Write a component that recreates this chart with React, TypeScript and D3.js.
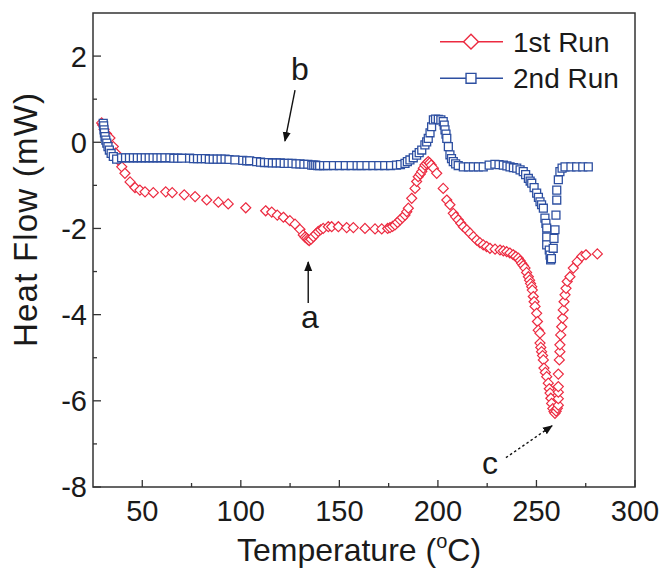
import React, { useEffect, useRef } from "react";
import * as d3 from "d3";

// 1st run (red diamonds): [temperature °C, heat flow mW]
const run1: [number, number][] = [
  [29.4, 0.45], [29.9, 0.4], [30.6, 0.3], [31.8, 0.2], [33.6, 0.1], [35.3, -0.1], [36.5, -0.25],
  [37.8, -0.41], [39.6, -0.57], [41.2, -0.72], [43.8, -0.92], [46.3, -1.05], [48.8, -1.11],
  [51.4, -1.15], [55.6, -1.17], [61.9, -1.15], [65.2, -1.17], [71.3, -1.22], [76.8, -1.26],
  [82.7, -1.34], [88.6, -1.39], [93.6, -1.43], [102.5, -1.52], [112.6, -1.59], [115.7, -1.62],
  [118.5, -1.69], [121.6, -1.74], [124.9, -1.82], [127.5, -1.9], [130.0, -2.02], [131.7, -2.15],
  [132.6, -2.2], [133.4, -2.23], [134.1, -2.26], [134.7, -2.28], [135.6, -2.25], [136.8, -2.19],
  [138, -2.13], [139.3, -2.07], [140.5, -2.03], [141.8, -2.0], [144.4, -1.96], [146.1, -1.96],
  [149.5, -1.96], [153.7, -1.98], [157.1, -1.98], [163.0, -2.0], [168.1, -2.01], [171.5, -2.01],
  [174.5, -2.0], [175.7, -1.98], [177, -1.95], [178.2, -1.92], [179.5, -1.86], [180.8, -1.8],
  [182, -1.75], [183.3, -1.69], [184.2, -1.61], [185.0, -1.53], [186.7, -1.3], [188.4, -1.07],
  [189.2, -0.91], [190.0, -0.8], [191, -0.74], [191.8, -0.68], [192.6, -0.6], [193.4, -0.53],
  [194.2, -0.49], [195.1, -0.45], [195.8, -0.48], [196.6, -0.53], [197.7, -0.6], [199.4, -0.72],
  [202.7, -1.07], [204.5, -1.34], [206.1, -1.45], [207.8, -1.65], [209, -1.73], [210.3, -1.8],
  [211.6, -1.88], [212.9, -1.96], [214.6, -2.03], [216.3, -2.11], [218, -2.19], [219.7, -2.27],
  [221.3, -2.33], [223.0, -2.38], [224.7, -2.42], [226.4, -2.46], [229, -2.48], [231.5, -2.5],
  [233.2, -2.52], [234.9, -2.54], [236.5, -2.57], [238.2, -2.61], [239.5, -2.65], [240.8, -2.69],
  [241.7, -2.75], [242.5, -2.81], [243.3, -2.86], [244.2, -2.92], [245, -3.02], [245.9, -3.12],
  [246.5, -3.2], [247, -3.28], [247.6, -3.35], [247.9, -3.43], [248.4, -3.58], [248.8, -3.7],
  [249.3, -3.81], [250.1, -3.97], [250.5, -4.16], [250.9, -4.36], [251.8, -4.43], [251.8, -4.66],
  [252.2, -4.76], [252.6, -4.86], [253.1, -4.95], [253.5, -5.05], [253.8, -5.24], [254.5, -5.34],
  [255.2, -5.44], [256.0, -5.59], [256.5, -5.72], [256.9, -5.82], [257.3, -5.94], [257.7, -6.06],
  [258.3, -6.18], [258.9, -6.25], [259.4, -6.29], [260, -6.24], [260.6, -6.17], [261.1, -6.1],
  [261.1, -5.95], [261.1, -5.8], [261.1, -5.67], [261.1, -5.38], [261.6, -5.05], [261.9, -4.86],
  [261.9, -4.7], [262.3, -4.47], [262.8, -4.28], [263.3, -4.08], [263.6, -3.89], [264.0, -3.7],
  [264.5, -3.54], [265.0, -3.39], [265.6, -3.23], [267.0, -3.12], [268.7, -2.92], [270.7, -2.77],
  [273.0, -2.65], [275.1, -2.61], [280.9, -2.59],
];

// 2nd run (blue squares)
const run2: [number, number][] = [
  [30.2, 0.44], [30.4, 0.38], [30.6, 0.29], [30.8, 0.22], [31.1, 0.13], [31.5, 0.05], [32.0, -0.02],
  [32.6, -0.1], [33.3, -0.18], [34.2, -0.26], [35.3, -0.33], [37.0, -0.39],
  [39.5, -0.36], [41.5, -0.36], [43.5, -0.36], [45.5, -0.36], [47.5, -0.36], [49.5, -0.36],
  [51.5, -0.36], [53.5, -0.36], [55.5, -0.36], [57.5, -0.36], [59.5, -0.36], [61.5, -0.36],
  [64, -0.36], [66, -0.37], [68, -0.37], [70, -0.37], [74, -0.37], [76, -0.38], [78, -0.38],
  [80, -0.38], [82, -0.38], [84, -0.39], [86, -0.39], [88, -0.39], [90, -0.39], [92, -0.39],
  [94, -0.4], [97, -0.41], [101, -0.42], [103, -0.43], [104.5, -0.43], [108, -0.45], [110, -0.46],
  [112, -0.47], [114, -0.47], [116, -0.48], [118, -0.48], [120, -0.48], [122, -0.49], [124, -0.49],
  [126, -0.49], [128, -0.5], [130, -0.5], [132, -0.51], [134, -0.51], [136, -0.53], [137, -0.53],
  [138, -0.53], [139, -0.54], [140, -0.54], [142, -0.54], [144, -0.54], [147, -0.54], [150, -0.54],
  [153, -0.54], [156, -0.54], [159, -0.54], [161, -0.54], [164, -0.54], [167, -0.54], [170, -0.54],
  [173, -0.54], [176, -0.54], [179, -0.53], [181, -0.52], [183.3, -0.49], [184.5, -0.45],
  [185.8, -0.41], [187.5, -0.36], [189.2, -0.3], [190.5, -0.24], [191.8, -0.18], [193.4, -0.06],
  [194.3, 0.01], [195.1, 0.09], [196, 0.22], [196.8, 0.36], [197.7, 0.52], [198.8, 0.54],
  [200.2, 0.53], [201.5, 0.52], [202.7, 0.48], [203.2, 0.4], [203.6, 0.29], [204.1, 0.19],
  [204.5, 0.09], [205.3, -0.1], [206.1, -0.29], [206.9, -0.38], [207.8, -0.45], [209, -0.5],
  [210.3, -0.54], [212.9, -0.57], [215.5, -0.57], [218, -0.57], [220.5, -0.57], [223, -0.57],
  [226, -0.53], [228.9, -0.51], [231, -0.52], [233.2, -0.53], [235, -0.55], [236.6, -0.57],
  [238.3, -0.59], [240, -0.6], [241.7, -0.64], [243.3, -0.68], [244.5, -0.75], [245.9, -0.84],
  [246.8, -0.9], [247.6, -0.95], [248.8, -1.05], [250.1, -1.18], [251, -1.28], [251.8, -1.38],
  [252.6, -1.45], [253.5, -1.53], [254.3, -1.76], [254.8, -1.88], [255.2, -1.99], [255.2, -2.2],
  [255.2, -2.38], [256.5, -2.5], [256.9, -2.62], [257.2, -2.73], [257.6, -2.7], [258.5, -2.46],
  [258.9, -2.23], [259.4, -2.03], [259.9, -1.69], [260.3, -1.34], [260.3, -1.11], [261.1, -0.87],
  [261.9, -0.68], [263, -0.6], [264.5, -0.57], [267.5, -0.57], [270.4, -0.57], [273.5, -0.57],
  [276.3, -0.57],
];

const xMajor = [50, 100, 150, 200, 250, 300];
const xMinor = [75, 125, 175, 225, 275];
const yMajor = [2, 0, -2, -4, -6, -8];
const yMinor = [1, -1, -3, -5, -7];

const seriesNames = ["1st Run", "2nd Run"];

// annotation letters and arrows, in data units
const labels = [
  { text: "b", x: 130, y: 1.45 },
  { text: "a", x: 135.1, y: -4.31 },
  { text: "c", x: 226.4, y: -7.7 },
];
const arrows = [
  { from: [127.5, 1.21], to: [122.4, 0.03], dashed: false },
  { from: [134.2, -3.73], to: [134.2, -2.78], dashed: false },
  { from: [234.5, -7.32], to: [257.9, -6.58], dashed: true },
];

const W = 661;
const H = 569;
const RED = "#ec2a40";
const BLUE = "#2d4fa1";
const FONT = "'Liberation Sans', Arial, Helvetica, sans-serif";

export default function App() {
  const svgRef = useRef<SVGSVGElement>(null);

  useEffect(() => {
    const svg = d3.select(svgRef.current);
    svg.selectAll("*").remove();

    const margin = { top: 13, right: 26, bottom: 82, left: 93 };
    const x = d3.scaleLinear().domain([25, 300]).range([margin.left, W - margin.right]);
    const y = d3.scaleLinear().domain([-8, 3]).range([H - margin.bottom, margin.top]);

    const defs = svg.append("defs");
    defs.append("marker")
      .attr("id", "head")
      .attr("viewBox", "0 0 10 10")
      .attr("refX", 9)
      .attr("refY", 5)
      .attr("markerWidth", 10)
      .attr("markerHeight", 10)
      .attr("markerUnits", "userSpaceOnUse")
      .attr("orient", "auto")
      .append("path")
      .attr("d", "M0,1 L10,5 L0,9 Z")
      .attr("fill", "#111");

    // frame
    svg.append("rect")
      .attr("x", x(25))
      .attr("y", y(3))
      .attr("width", x(300) - x(25))
      .attr("height", y(-8) - y(3))
      .attr("fill", "none")
      .attr("stroke", "#333")
      .attr("stroke-width", 1.5);

    // ticks (inward, bottom and left only)
    const g = svg.append("g").attr("stroke", "#333").attr("stroke-width", 1.3);
    xMajor.forEach(v => g.append("line").attr("x1", x(v)).attr("x2", x(v)).attr("y1", y(-8)).attr("y2", y(-8) - 7));
    xMinor.forEach(v => g.append("line").attr("x1", x(v)).attr("x2", x(v)).attr("y1", y(-8)).attr("y2", y(-8) - 4));
    yMajor.forEach(v => g.append("line").attr("x1", x(25)).attr("x2", x(25) + 8).attr("y1", y(v)).attr("y2", y(v)));
    yMinor.forEach(v => g.append("line").attr("x1", x(25)).attr("x2", x(25) + 4).attr("y1", y(v)).attr("y2", y(v)));

    const txt = svg.append("g").style("font-family", FONT).attr("fill", "#1a1a1a");
    xMajor.forEach(v => txt.append("text")
      .attr("x", x(v)).attr("y", 521)
      .attr("text-anchor", "middle")
      .style("font-size", "29px")
      .text(v));
    yMajor.forEach(v => txt.append("text")
      .attr("x", 87).attr("y", y(v)).attr("dy", "0.36em")
      .attr("text-anchor", "end")
      .style("font-size", "29px")
      .text(v));

    // axis titles
    const xt = txt.append("text")
      .attr("x", 359).attr("y", 561)
      .attr("text-anchor", "middle")
      .style("font-size", "32px");
    xt.append("tspan").text("Temperature (");
    xt.append("tspan").attr("dy", -13).style("font-size", "20px").text("o");
    xt.append("tspan").attr("dy", 13).text("C)");

    txt.append("text")
      .attr("transform", `translate(37, ${(93 + 347) / 2}) rotate(-90)`)
      .attr("text-anchor", "middle")
      .attr("textLength", 254)
      .attr("lengthAdjust", "spacing")
      .style("font-size", "33px")
      .text("Heat Flow (mW)");

    const diamond = d3.symbol().type(d3.symbolDiamond2).size(64);
    const square = d3.symbol().type(d3.symbolSquare2).size(80);

    // series
    svg.append("g").selectAll("path")
      .data(run1)
      .enter()
      .append("path")
      .attr("d", diamond)
      .attr("transform", d => `translate(${x(d[0])},${y(d[1])})`)
      .attr("fill", "white")
      .attr("stroke", RED)
      .attr("stroke-width", 1.2);

    svg.append("g").selectAll("path")
      .data(run2)
      .enter()
      .append("path")
      .attr("d", square)
      .attr("transform", d => `translate(${x(d[0])},${y(d[1])})`)
      .attr("fill", "white")
      .attr("stroke", BLUE)
      .attr("stroke-width", 1.3);

    // annotations
    arrows.forEach(a => svg.append("line")
      .attr("x1", x(a.from[0])).attr("y1", y(a.from[1]))
      .attr("x2", x(a.to[0])).attr("y2", y(a.to[1]))
      .attr("stroke", "#111")
      .attr("stroke-width", 1.4)
      .attr("stroke-dasharray", a.dashed ? "2.5,2.5" : null)
      .attr("marker-end", "url(#head)"));
    labels.forEach(l => txt.append("text")
      .attr("x", x(l.x)).attr("y", y(l.y))
      .attr("text-anchor", "middle")
      .style("font-size", "32px")
      .text(l.text));

    // legend
    const legend = svg.append("g").attr("transform", "translate(440, 41.7)");
    seriesNames.forEach((name, i) => {
      const row = legend.append("g").attr("transform", `translate(0, ${i * 36.6})`);
      const color = i === 0 ? RED : BLUE;
      row.append("line").attr("x1", 0).attr("x2", 63).attr("y1", 0).attr("y2", 0)
        .attr("stroke", color).attr("stroke-width", 1.5);
      row.append("path")
        .attr("d", i === 0 ? d3.symbol().type(d3.symbolDiamond2).size(140)() : d3.symbol().type(d3.symbolSquare2).size(125)())
        .attr("transform", "translate(31, 0)")
        .attr("fill", "white").attr("stroke", color).attr("stroke-width", 1.4);
      row.append("text")
        .attr("x", 73).attr("y", 0).attr("dy", "0.36em")
        .style("font-family", FONT).style("font-size", "28px").attr("fill", "#1a1a1a")
        .text(name);
    });
  }, []);

  return (
    <div style={{ position: "absolute", left: 0, top: 0, background: "white" }}>
      <svg ref={svgRef} width={W} height={H} style={{ display: "block" }}></svg>
    </div>
  );
}
